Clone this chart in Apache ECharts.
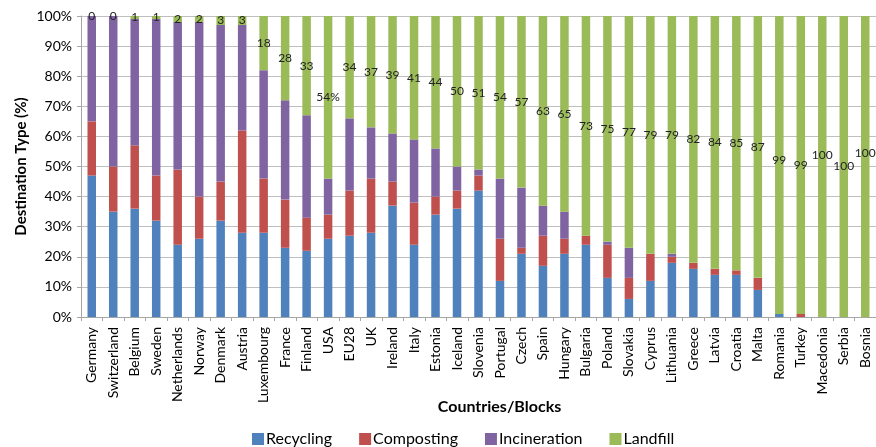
<!DOCTYPE html>
<html>
<head>
<meta charset="utf-8">
<script src="https://cdn.jsdelivr.net/npm/echarts@6/dist/echarts.min.js"></script>
<style>
  html, body { margin: 0; padding: 0; background: #fff; }
  #chart { width: 876px; height: 447px; }
</style>
</head>
<body>
<div id="chart"></div>
<script>
// Countries / blocks along the x axis
const countries = ["Germany", "Switzerland", "Belgium", "Sweden", "Netherlands", "Norway", "Denmark", "Austria",
    "Luxembourg", "France", "Finland", "USA", "EU28", "UK", "Ireland", "Italy", "Estonia", "Iceland", "Slovenia",
    "Portugal", "Czech", "Spain", "Hungary", "Bulgaria", "Poland", "Slovakia", "Cyprus", "Lithuania", "Greece",
    "Latvia", "Croatia", "Malta", "Romania", "Turkey", "Macedonia", "Serbia", "Bosnia"];

// Share of each destination type (%)
const recycling = [47, 35, 36, 32, 24, 26, 32, 28, 28, 23, 22, 26, 27, 28, 37, 24, 34, 36, 42, 12, 21, 17, 21, 24,
    13, 6, 12, 18, 16, 14, 14, 9, 1, 0, 0, 0, 0];
const composting = [18, 15, 21, 15, 25, 14, 13, 34, 18, 16, 11, 8, 15, 18, 8, 14, 6, 6, 5, 14, 2, 10, 5, 3,
    11, 7, 9, 2, 2, 2, 1.5, 4, 0, 1, 0, 0, 0];
const incineration = [35, 50, 42, 52, 49, 58, 52, 35, 36, 33, 34, 12, 24, 17, 16, 21, 16, 8, 2, 20, 20, 10, 9, 0,
    1, 10, 0, 1, 0, 0, 0, 0, 0, 0, 0, 0, 0];
const landfill = [0, 0, 1, 1, 2, 2, 3, 3, 18, 28, 33, 54, 34, 37, 39, 41, 44, 50, 51, 54, 57, 63, 65, 73,
    75, 77, 79, 79, 82, 84, 85, 87, 99, 99, 100, 100, 100];

// Text printed on the landfill segments
const landfillLabels = ["0", "0", "1", "1", "2", "2", "3", "3", "18", "28", "33", "54%", "34", "37", "39", "41",
    "44", "50", "51", "54", "57", "63", "65", "73", "75", "77", "79", "79", "82", "84", "85", "87", "99", "99",
    "100", "100", "100"];

// Vertical nudge (px) of the crowded labels at the right end, like in the original
const labelNudge = { 32: -5, 34: -11, 36: -13 };

// Y axis ticks
const yTicks = [0, 10, 20, 30, 40, 50, 60, 70, 80, 90, 100];

const seriesNames = ["Recycling", "Composting", "Incineration", "Landfill"];
const seriesData = [recycling, composting, incineration, landfill];

const FONT = "Lato, 'Open Sans', sans-serif";

const chart = echarts.init(document.getElementById("chart"));

// Build the stacked series
let series = [];
for (let i = 0; i < seriesNames.length; i++) {
    const isLandfill = i === seriesNames.length - 1;
    series.push({
        name: seriesNames[i],
        type: "bar",
        stack: "total",
        barWidth: 8.5,
        data: seriesData[i],
        label: {
            show: isLandfill,
            position: "inside",
            color: "#222",
            fontSize: 12,
            fontFamily: FONT,
            formatter: p => landfillLabels[p.dataIndex]
        },
        labelLayout: p => ({ hideOverlap: false, dy: labelNudge[p.dataIndex] || 0 })
    });
}

let option = {
    animation: false,
    color: ["#4F81BD", "#C0504D", "#8064A2", "#9BBB59"],
    textStyle: { fontFamily: FONT },

    // GRID
    grid: { left: 81, right: 0, top: 16, bottom: 130, containLabel: false },

    // XAXIS
    xAxis: {
        type: "category",
        data: countries,
        name: "Countries/Blocks",
        nameLocation: "middle",
        nameGap: 82,
        nameMoveOverlap: false,
        nameTextStyle: { fontSize: 16, fontWeight: "bold", color: "#000", fontFamily: FONT, padding: [0, 0, 0, 42] },
        axisLine: { lineStyle: { color: "#a6a6a6" } },
        axisTick: { show: true, alignWithLabel: false, length: 4, lineStyle: { color: "#a6a6a6" } },
        axisLabel: { rotate: 90, interval: 0, fontSize: 14, color: "#000", margin: 10, fontFamily: FONT }
    },

    // YAXIS
    yAxis: {
        type: "value",
        min: yTicks[0],
        max: yTicks[yTicks.length - 1],
        interval: 10,
        name: "Destination Type (%)",
        nameLocation: "middle",
        nameGap: 52,
        nameMoveOverlap: false,
        nameTextStyle: { fontSize: 15, fontWeight: "bold", color: "#000", fontFamily: FONT },
        axisLine: { show: true, lineStyle: { color: "#a6a6a6" } },
        axisTick: { show: true, length: 4, lineStyle: { color: "#a6a6a6" } },
        axisLabel: { formatter: "{value}%", fontSize: 14, color: "#000", margin: 9, fontFamily: FONT },
        splitLine: { lineStyle: { color: "#bfbfbf", width: 1 } }
    },

    // LEGEND
    legend: {
        top: 426,
        left: 247,
        icon: "rect",
        itemWidth: 12,
        itemHeight: 12,
        itemGap: 27,
        textStyle: { fontSize: 16, color: "#000", fontFamily: FONT, padding: [0, 0, 0, -3] },
        data: seriesNames
    },

    series: series
};

chart.setOption(option);
</script>
</body>
</html>
